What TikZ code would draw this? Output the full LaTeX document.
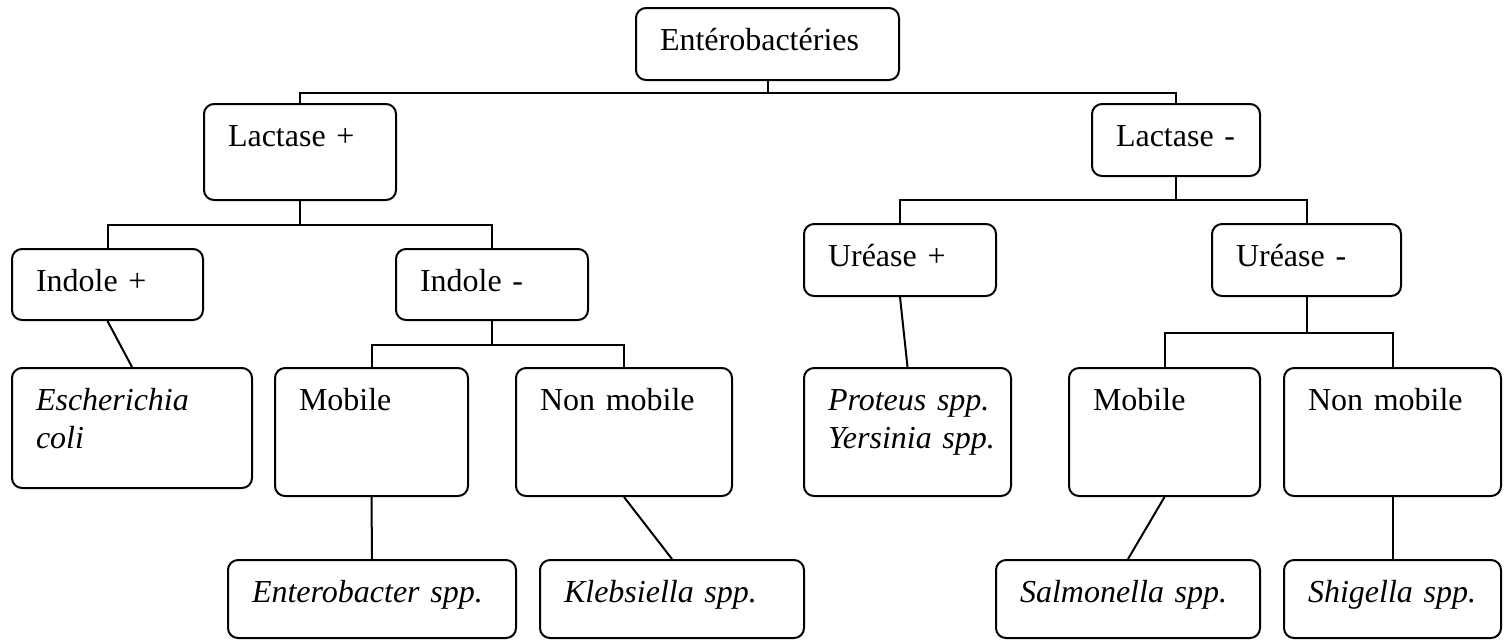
\documentclass[tikz,border=0pt]{standalone}
\usepackage{fontspec}
\setmainfont{Liberation Serif}
\begin{document}
\begin{tikzpicture}[x=0.5pt,y=-0.5pt,
  bx/.style={draw, line width=1pt, rounded corners=5pt, anchor=north west,
    inner xsep=12pt, inner ysep=0pt, align=left, text height=21pt,
    font=\fontsize{16}{19}\selectfont},
  conn/.style={line width=1pt}]
\useasboundingbox (0,0) rectangle (1507,639);
% level 0
\node[bx, text width=107.5pt, text depth=15pt] (ent) at (635,7) {\mbox{Entérobactéries}};
% level 1
\node[bx, text width=72pt, text depth=27pt] (lp) at (203,103) {\mbox{Lactase +}};
\node[bx, text width=60pt, text depth=15pt] (lm) at (1091,103) {\mbox{Lactase -}};
% level 2
\node[bx, text width=71.5pt, text depth=14.5pt] (ip) at (11,248) {\mbox{Indole +}};
\node[bx, text width=72pt, text depth=14.5pt] (im) at (395,248) {\mbox{Indole -}};
\node[bx, text width=72pt, text depth=15pt] (up) at (803,223) {\mbox{Uréase +}};
\node[bx, text width=70.5pt, text depth=15pt] (um) at (1211,223) {\mbox{Uréase -}};
% level 3
\node[bx, text width=96pt, text depth=39pt] (ec) at (11,367) {\itshape\mbox{Escherichia}\\\mbox{coli}};
\node[bx, text width=72.5pt, text depth=43pt] (mobL) at (274,367) {\mbox{Mobile}};
\node[bx, text width=84pt, text depth=43pt] (nmL) at (515,367) {\mbox{Non mobile}};
\node[bx, text width=79.5pt, text depth=43pt] (py) at (803,367) {\itshape\mbox{Proteus spp.}\\\mbox{Yersinia spp.}};
\node[bx, text width=71.5pt, text depth=43pt] (mobR) at (1068,367) {\mbox{Mobile}};
\node[bx, text width=84.5pt, text depth=43pt] (nmR) at (1283,367) {\mbox{Non mobile}};
% level 4
\node[bx, text width=120pt, text depth=18pt] (eb) at (227,559) {\itshape\mbox{Enterobacter spp.}};
\node[bx, text width=108pt, text depth=18pt] (kl) at (539,559) {\itshape\mbox{Klebsiella spp.}};
\node[bx, text width=108pt, text depth=18pt] (sa) at (995,559) {\itshape\mbox{Salmonella spp.}};
\node[bx, text width=84.5pt, text depth=18pt] (sh) at (1283,559) {\itshape\mbox{Shigella spp.}};
% connectors
\draw[conn] (ent.south) -- ++(0,12) -| (lp.north);
\draw[conn] (ent.south) -- ++(0,12) -| (lm.north);
\draw[conn] (lp.south) -- ++(0,24) -| (ip.north);
\draw[conn] (lp.south) -- ++(0,24) -| (im.north);
\draw[conn] (lm.south) -- ++(0,23) -| (up.north);
\draw[conn] (lm.south) -- ++(0,23) -| (um.north);
\draw[conn] (ip.south) -- (ec.north);
\draw[conn] (im.south) -- ++(0,24) -| (mobL.north);
\draw[conn] (im.south) -- ++(0,24) -| (nmL.north);
\draw[conn] (up.south) -- (py.north);
\draw[conn] (um.south) -- ++(0,36) -| (mobR.north);
\draw[conn] (um.south) -- ++(0,36) -| (nmR.north);
\draw[conn] (mobL.south) -- (eb.north);
\draw[conn] (nmL.south) -- (kl.north);
\draw[conn] (mobR.south) -- (sa.north);
\draw[conn] (nmR.south) -- (sh.north);
\end{tikzpicture}
\end{document}
